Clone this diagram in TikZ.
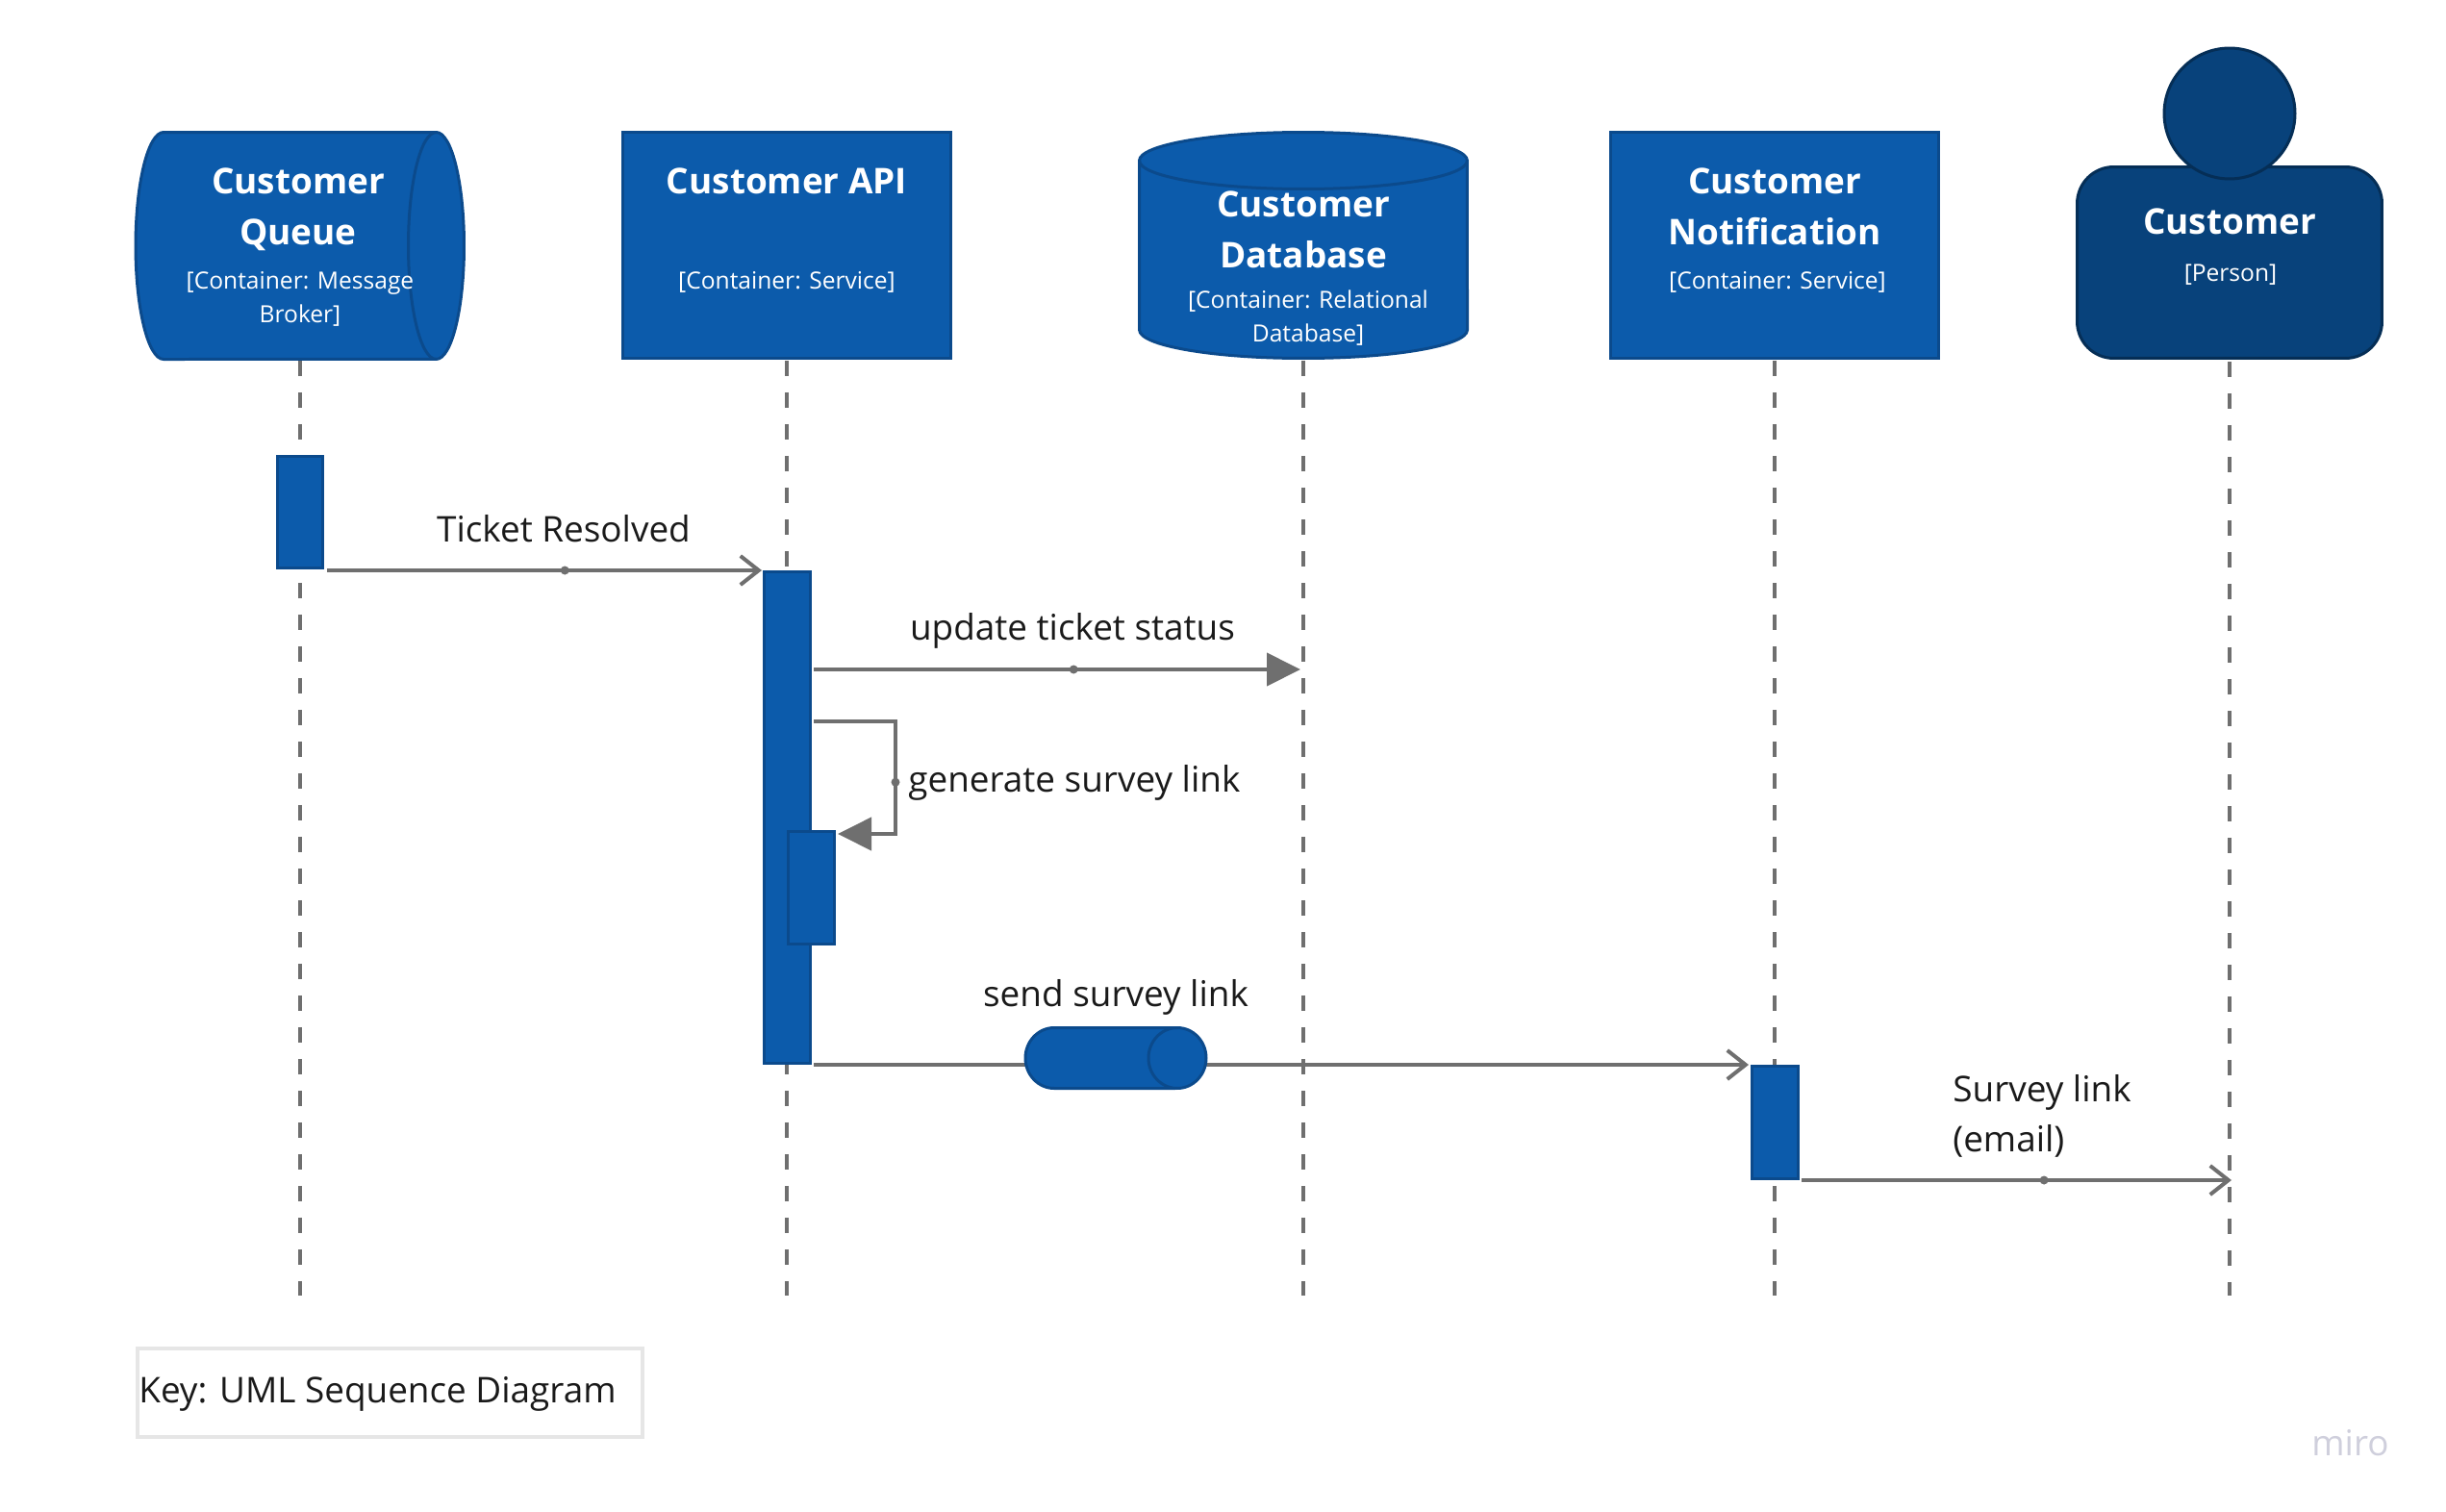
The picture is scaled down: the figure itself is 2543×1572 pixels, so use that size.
\documentclass[tikz,border=0pt]{standalone}
\usepackage{fontspec}
\setmainfont{Open Sans}
\usetikzlibrary{arrows.meta}
\definecolor{contfill}{HTML}{0C5BAB}
\definecolor{contline}{HTML}{0B4A8C}
\definecolor{persfill}{HTML}{08427B}
\definecolor{persline}{HTML}{052E56}
\definecolor{msgline}{HTML}{6F6F6F}
\definecolor{labeltext}{HTML}{1A1A1A}
\definecolor{keyline}{HTML}{E6E6E6}
\definecolor{marktext}{HTML}{CFCFDC}

\begin{document}
\begin{tikzpicture}[x=.02cm, y=-.02cm]
\tikzstyle{box} = [draw=contline, fill=contfill, line width=.06cm, inner sep=0pt, outer sep=0pt]
\tikzstyle{bar} = [box, rectangle, minimum width=.96cm, minimum height=2.34cm]
\tikzstyle{spot} = [rectangle, inner sep=0pt, outer sep=0pt]
\tikzstyle{ttl} = [anchor=base, align=center, inner sep=0pt, text=white, font=\bfseries\fontsize{21}{29.6}\selectfont]
\tikzstyle{sub} = [anchor=base, align=center, inner sep=0pt, text=white, font=\fontsize{14}{19.9}\selectfont]
\tikzstyle{lbl} = [inner sep=0pt, align=left, text=labeltext, font=\fontsize{21}{29.6}\selectfont]
\tikzstyle{life} = [draw=msgline, line width=.07cm, dash pattern=on .33cm off .33cm]
\tikzstyle{msg} = [draw=msgline, line width=.08cm]
\tikzstyle{barb} = [msg, -{Straight Barb[length=.38cm, width=.6cm, line width=.08cm]}]
\tikzstyle{head} = [msg, -{Triangle[length=.7cm, width=.68cm]}]
\tikzstyle{mdot} = [circle, fill=msgline, inner sep=0pt, minimum size=.18cm]

\useasboundingbox (0, 0) rectangle (2543, 1572);

% top row
\node [spot, minimum width=6.82cm, minimum height=4.72cm] (queue) at (312, 255) {};
\draw [box] (170, 137.5) -- (453.5, 137.5)
  arc [start angle=90, end angle=-90, x radius=.58cm, y radius=2.36cm] -- (170, 373.5)
  arc [start angle=270, end angle=90, x radius=.58cm, y radius=2.36cm] -- cycle;
\draw [box, fill=none] (453.5, 373.5) arc [start angle=270, end angle=90, x radius=.58cm, y radius=2.36cm];
\node [box, rectangle, minimum width=6.82cm, minimum height=4.72cm] (api) at (818, 255) {};
\node [spot, minimum width=6.82cm, minimum height=4.72cm] (db) at (1355, 255) {};
\draw [box] (1184.5, 167)
  arc [start angle=180, end angle=0, x radius=3.41cm, y radius=.59cm] -- (1525.5, 343)
  arc [start angle=0, end angle=-180, x radius=3.41cm, y radius=.59cm] -- cycle;
\draw [box, fill=none] (1184.5, 167) arc [start angle=180, end angle=360, x radius=3.41cm, y radius=.59cm];
\node [box, rectangle, minimum width=6.82cm, minimum height=4.72cm] (notif) at (1845, 255) {};
\node [draw=persline, fill=persfill, line width=.06cm, rounded corners=.76cm, minimum width=6.34cm, minimum height=3.98cm] (body) at (2318, 273) {};
\node [draw=persline, fill=persfill, line width=.06cm, circle, minimum size=2.72cm] (pershead) at (2318, 118) {};

\node [ttl] (queueT) at (310, 254) {Customer\\Queue};
\node [sub] (queueS) at (312, 335) {[Container: Message\\Broker]};
\node [ttl] (apiT) at (818, 201) {Customer API};
\node [sub] (apiS) at (818, 300) {[Container: Service]};
\node [ttl] (dbT) at (1355, 278) {Customer\\Database};
\node [sub] (dbS) at (1360, 355) {[Container: Relational\\Database]};
\node [ttl] (notifT) at (1845, 254) {Customer\\Notification};
\node [sub] (notifS) at (1848, 300) {[Container: Service]};
\node [ttl] (persT) at (2318, 243) {Customer};
\node [sub] (persS) at (2319, 292) {[Person]};

% lifelines
\coordinate (queueE) at (312, 1347);
\coordinate (apiE) at (818, 1347);
\coordinate (dbE) at (1355, 1347);
\coordinate (notifE) at (1845, 1347);
\coordinate (bodyE) at (2318, 1347);
\foreach \from/\to in {queue/queueE, api/apiE, db/dbE, notif/notifE, body/bodyE}
\draw [life] (\from.south) ++(0, 2) -- (\to);

% activations
\node [bar] (act1) at (312, 532.5) {};
\node [bar, minimum height=10.22cm] (act2) at (818, 850) {};
\node [bar] (act3) at (843.5, 923) {};
\node [bar] (act4) at (1845, 1167) {};

% messages
\coordinate (resA) at (340, 593);
\coordinate (resB) at (792, 593);
\coordinate (updA) at (846, 696);
\coordinate (updB) at (1352, 696);
\coordinate (selfA) at (846, 750);
\coordinate (selfB) at (931, 750);
\coordinate (selfC) at (931, 867);
\coordinate (selfD) at (871, 867);
\coordinate (sendA) at (846, 1107);
\coordinate (sendB) at (1818, 1107);
\coordinate (mailA) at (1873, 1227);
\coordinate (mailB) at (2320, 1227);

\draw [barb] (resA) -- node [mdot, pos=.547] {} (resB);
\draw [head] (updA) -- node [mdot, pos=.534] {} (updB);
\draw [head] (selfA) -- (selfB) -- node [mdot, pos=.54] {} (selfC) -- (selfD);
\draw [barb] (sendA) -- (sendB);
\draw [barb] (mailA) -- node [mdot, pos=.564] {} (mailB);

% tube on the send line
\draw [box] (1096, 1068.5) -- (1224, 1068.5)
  arc [start angle=90, end angle=-90, x radius=.6cm, y radius=.63cm] -- (1096, 1131.5)
  arc [start angle=270, end angle=90, x radius=.6cm, y radius=.63cm] -- cycle;
\draw [box, fill=none] (1224, 1131.5) arc [start angle=270, end angle=90, x radius=.6cm, y radius=.63cm];

\node [lbl, anchor=base] (resolved) at (586, 563) {Ticket Resolved};
\node [lbl, anchor=base] (update) at (1115, 665) {update ticket status};
\node [lbl, anchor=base west] (generate) at (944, 823) {generate survey link};
\node [lbl, anchor=base] (send) at (1160, 1046) {send survey link};
\node [lbl, anchor=base west] (mail) at (2030, 1197) {Survey link\\(email)};

% key
\node [draw=keyline, line width=.08cm, minimum width=10.5cm, minimum height=1.84cm] (key) at (405.5, 1448) {};
\node [lbl, anchor=base west] (keyT) at (144, 1458) {Key: UML Sequence Diagram};
\node [anchor=base west, inner sep=0pt, text=marktext, font=\fontsize{21}{25}\selectfont] (mark) at (2403, 1513) {miro};
\end{tikzpicture}
\end{document}
